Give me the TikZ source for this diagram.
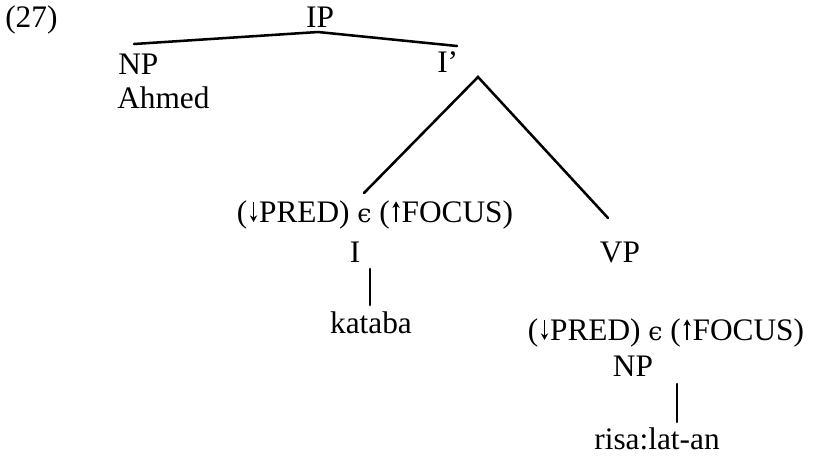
\documentclass[tikz,border=0pt]{standalone}
\usepackage{fontspec}
\usetikzlibrary{arrows.meta}
\setmainfont{Liberation Serif}
\newfontfamily\grk{DejaVu Serif}
\newcommand{\lunate}{{\grk\fontsize{19}{19}\selectfont ϵ}}
% tall thin arrows with solid heads, cap height
\newcommand{\dnarrow}{\tikz[baseline=0pt]\draw[line width=1.3pt,-{Stealth[length=5pt,width=5.5pt]}] (0pt,0.64em) -- (0pt,0pt);}
\newcommand{\uparrowsym}{\tikz[baseline=0pt]\draw[line width=1.3pt,-{Stealth[length=5pt,width=5.5pt]}] (0pt,0pt) -- (0pt,0.66em);}
\newcommand{\focuseq}{(\hspace{0.08em}\dnarrow\hspace{0.06em}PRED) \lunate{} (\hspace{0.08em}\uparrowsym\hspace{0.06em}FOCUS)}
\begin{document}
\begin{tikzpicture}[x=0.75pt,y=-0.75pt,
  lbl/.style={anchor=base,inner sep=0pt,font=\fontsize{23.5}{26}\selectfont},
  branch/.style={line width=1.9pt,line cap=round}]
\useasboundingbox (0,0) rectangle (816,458);

% labels
\node[lbl,anchor=base west] (ex) at (5,27) {(27)};
\node[lbl] (ip) at (320,27) {IP};
\node[lbl,anchor=base west] (np1) at (118,74) {NP};
\node[lbl,anchor=base west] (ahmed) at (117,108) {Ahmed};
\node[lbl,anchor=base west] (ibar) at (437,72) {I’};
\node[lbl] (f1) at (375,222) {\focuseq};
\node[lbl] (i) at (355,262) {I};
\node[lbl] (kataba) at (371,333) {kataba};
\node[lbl] (vp) at (620,262) {VP};
\node[lbl] (f2) at (666,340) {\focuseq};
\node[lbl] (np2) at (633,376) {NP};
\node[lbl] (risa) at (657,449) {risa:lat-an};

% branch points
\coordinate (ipTop) at (318,32);
\coordinate (npEnd) at (134,44);
\coordinate (ibEnd) at (457,46);
\coordinate (ibTop) at (478,77);
\coordinate (iEnd) at (364,193);
\coordinate (vpEnd) at (608,218);
\coordinate (iStemA) at (370,269);
\coordinate (iStemB) at (370,305);
\coordinate (nStemA) at (677,384);
\coordinate (nStemB) at (677,422);

\draw[branch] (npEnd) -- (ipTop) -- (ibEnd);
\draw[branch] (iEnd) -- (ibTop) -- (vpEnd);
\draw[branch] (iStemA) -- (iStemB);
\draw[branch] (nStemA) -- (nStemB);
\end{tikzpicture}
\end{document}
